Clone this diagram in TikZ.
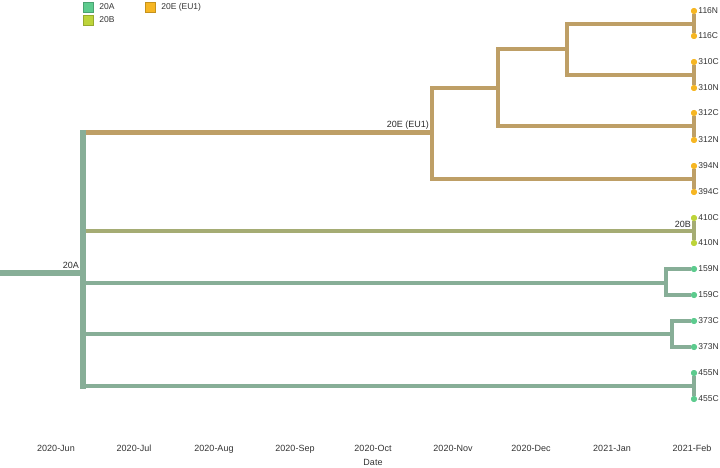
\documentclass[tikz,border=0pt]{standalone}
\usepackage{fontspec}
\setmainfont{Liberation Sans}
\usepackage{xcolor}
\usepackage{tikz}
\usetikzlibrary{positioning}

\definecolor{brA}{HTML}{87AE97}
\definecolor{brB}{HTML}{A5AC74}
\definecolor{brE}{HTML}{BE9F66}
\definecolor{dotA}{HTML}{5DCB8E}
\definecolor{dotB}{HTML}{BDD43A}
\definecolor{dotE}{HTML}{F6B623}
\definecolor{txt}{HTML}{333333}

\tikzset{
  branch/.style={line width=4pt},
  vline/.style={line width=4pt, line cap=rect},
  tipline/.style={line width=3.5pt},
  tipdot/.style={circle, inner sep=0pt, minimum size=6pt, fill=#1},
  tiplab/.style={font=\fontsize{8.5}{9}\selectfont, text=txt, inner sep=1pt},
  cladelab/.style={font=\fontsize{9}{10}\selectfont, text=txt!85!black, inner sep=1pt, anchor=south east},
  legbox/.style={rectangle, inner sep=0pt, minimum size=10pt, fill=#1, draw=#1!80!black, line width=0.3pt},
  legtext/.style={font=\fontsize{8.5}{9}\selectfont, text=txt, inner sep=0pt, anchor=west},
  ticklab/.style={font=\fontsize{9}{10}\selectfont, text=txt, inner sep=0pt, anchor=base}
}

\begin{document}
\begin{tikzpicture}[x=1pt, y=-1pt]
  \useasboundingbox (0,0) rectangle (720,468);

  % Legend
  \node[legbox=dotA] (kA) at (88,7) {};
  \node[legtext, right=6pt of kA] (kAt) {20A};
  \node[legbox=dotB] (kB) at (88,20) {};
  \node[legtext, right=6pt of kB] (kBt) {20B};
  \node[legbox=dotE] (kE) at (150,7) {};
  \node[legtext, right=6pt of kE] (kEt) {20E (EU1)};

  % Internal nodes
  \coordinate (root) at (0,273);
  \coordinate (nA) at (83,273);
  \coordinate (nE) at (432,133);
  \coordinate (nE1) at (498,88);
  \coordinate (nE2) at (567,49);
  \coordinate (n116) at (694,24);
  \coordinate (n310) at (694,75);
  \coordinate (n312) at (694,126);
  \coordinate (n394) at (694,179);
  \coordinate (nB) at (694,231);
  \coordinate (n159) at (666,283);
  \coordinate (n373) at (672,334);
  \coordinate (n455) at (694,386);

  % Tips
  \node[tipdot=dotE, label={[tiplab]right:116N}] (t116N) at (694,11) {};
  \node[tipdot=dotE, label={[tiplab]right:116C}] (t116C) at (694,36) {};
  \node[tipdot=dotE, label={[tiplab]right:310C}] (t310C) at (694,62) {};
  \node[tipdot=dotE, label={[tiplab]right:310N}] (t310N) at (694,88) {};
  \node[tipdot=dotE, label={[tiplab]right:312C}] (t312C) at (694,113) {};
  \node[tipdot=dotE, label={[tiplab]right:312N}] (t312N) at (694,140) {};
  \node[tipdot=dotE, label={[tiplab]right:394N}] (t394N) at (694,166) {};
  \node[tipdot=dotE, label={[tiplab]right:394C}] (t394C) at (694,192) {};
  \node[tipdot=dotB, label={[tiplab]right:410C}] (t410C) at (694,218) {};
  \node[tipdot=dotB, label={[tiplab]right:410N}] (t410N) at (694,243) {};
  \node[tipdot=dotA, label={[tiplab]right:159N}] (t159N) at (694,269) {};
  \node[tipdot=dotA, label={[tiplab]right:159C}] (t159C) at (694,295) {};
  \node[tipdot=dotA, label={[tiplab]right:373C}] (t373C) at (694,321) {};
  \node[tipdot=dotA, label={[tiplab]right:373N}] (t373N) at (694,347) {};
  \node[tipdot=dotA, label={[tiplab]right:455N}] (t455N) at (694,373) {};
  \node[tipdot=dotA, label={[tiplab]right:455C}] (t455C) at (694,399) {};

  % Trunk (20A)
  \draw[brA, line width=6pt] (root) -- (nA);
  \draw[brA, vline, line width=6pt] (nA |- nE) -- (nA |- n455);
  \draw[brE, branch, line width=5pt] ([xshift=3pt]nA |- nE) -- (nE);
  \draw[brB, branch] ([xshift=3pt]nA |- nB) -- (nB);
  \draw[brA, branch] ([xshift=3pt]nA |- n159) -- (n159);
  \draw[brA, branch] ([xshift=3pt]nA |- n373) -- (n373);
  \draw[brA, branch] ([xshift=3pt]nA |- n455) -- (n455);

  % 20E (EU1) subtree
  \draw[brE, vline] (nE |- nE1) -- (nE |- n394);
  \draw[brE, branch] (nE |- nE1) -- (nE1);
  \draw[brE, branch] (nE |- n394) -- (n394);
  \draw[brE, vline] (nE1 |- nE2) -- (nE1 |- n312);
  \draw[brE, branch] (nE1 |- nE2) -- (nE2);
  \draw[brE, branch] (nE1 |- n312) -- (n312);
  \draw[brE, vline] (nE2 |- n116) -- (nE2 |- n310);
  \draw[brE, branch] (nE2 |- n116) -- (n116);
  \draw[brE, branch] (nE2 |- n310) -- (n310);

  % Sample pairs
  \draw[brE, tipline] (t116N) -- (t116C);
  \draw[brE, tipline] (t310C) -- (t310N);
  \draw[brE, tipline] (t312C) -- (t312N);
  \draw[brE, tipline] (t394N) -- (t394C);
  \draw[brB, tipline] (t410C) -- (t410N);
  \draw[brA, vline] (n159 |- t159N) -- (n159 |- t159C);
  \draw[brA, tipline] (n159 |- t159N) -- (t159N);
  \draw[brA, tipline] (n159 |- t159C) -- (t159C);
  \draw[brA, vline] (n373 |- t373C) -- (n373 |- t373N);
  \draw[brA, tipline] (n373 |- t373C) -- (t373C);
  \draw[brA, tipline] (n373 |- t373N) -- (t373N);
  \draw[brA, tipline] (t455N) -- (t455C);

  % redraw dots on top
  \foreach \t/\c in {116N/dotE, 116C/dotE, 310C/dotE, 310N/dotE, 312C/dotE, 312N/dotE, 394N/dotE, 394C/dotE,
                     410C/dotB, 410N/dotB, 159N/dotA, 159C/dotA, 373C/dotA, 373N/dotA, 455N/dotA, 455C/dotA}
    \fill[\c] (t\t) circle (3pt);

  % Clade labels
  \node[cladelab] (lA) at (80,270) {20A};
  \node[cladelab] (lE) at (430,130.5) {20E (EU1)};
  \node[cladelab] (lB) at (692,228.5) {20B};

  % Time axis
  \foreach \x/\m in {56/2020-Jun, 134/2020-Jul, 214/2020-Aug, 295/2020-Sep, 373/2020-Oct,
                     453/2020-Nov, 531/2020-Dec, 612/2021-Jan, 692/2021-Feb}
    \node[ticklab] (m\x) at (\x,451.5) {\m};
  \node[ticklab] (xlab) at (373,465.5) {Date};
\end{tikzpicture}
\end{document}
